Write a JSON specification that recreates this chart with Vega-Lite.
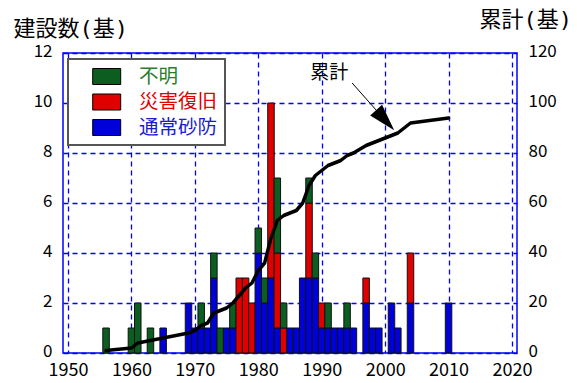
{
  "$schema": "https://vega.github.io/schema/vega-lite/v6.json",
  "width": 454,
  "height": 300,
  "autosize": "none",
  "padding": {"left": 63, "top": 53, "right": 60, "bottom": 30},
  "background": "white",
  "config": {
    "font": "Noto Sans CJK JP",
    "view": {"stroke": "#0000ff", "strokeWidth": 1.5},
    "axis": {
      "labelFont": "Noto Sans CJK JP",
      "labelFontSize": 17,
      "labelColor": "#000",
      "titleFont": "DejaVu Sans Mono, Noto Sans CJK JP",
      "titleFontSize": 22,
      "titleFontWeight": "normal",
      "titleColor": "#000",
      "domain": false,
      "ticks": false,
      "gridColor": "#0000ff",
      "gridDash": [5, 4],
      "gridWidth": 1.3,
      "gridOpacity": 1
    }
  },
  "datasets": {
    "counts": [
      {"year": 1956, "type": "不明", "count": 1},
      {"year": 1960, "type": "不明", "count": 1},
      {"year": 1961, "type": "不明", "count": 2},
      {"year": 1963, "type": "不明", "count": 1},
      {"year": 1965, "type": "通常砂防", "count": 1},
      {"year": 1969, "type": "通常砂防", "count": 2},
      {"year": 1970, "type": "通常砂防", "count": 1},
      {"year": 1971, "type": "通常砂防", "count": 1},
      {"year": 1971, "type": "不明", "count": 1},
      {"year": 1972, "type": "通常砂防", "count": 1},
      {"year": 1973, "type": "通常砂防", "count": 3},
      {"year": 1973, "type": "不明", "count": 1},
      {"year": 1974, "type": "不明", "count": 1},
      {"year": 1975, "type": "通常砂防", "count": 1},
      {"year": 1976, "type": "通常砂防", "count": 1},
      {"year": 1976, "type": "不明", "count": 1},
      {"year": 1977, "type": "災害復旧", "count": 3},
      {"year": 1978, "type": "災害復旧", "count": 3},
      {"year": 1979, "type": "災害復旧", "count": 2},
      {"year": 1980, "type": "通常砂防", "count": 4},
      {"year": 1980, "type": "不明", "count": 1},
      {"year": 1981, "type": "通常砂防", "count": 2},
      {"year": 1981, "type": "不明", "count": 1},
      {"year": 1982, "type": "通常砂防", "count": 3},
      {"year": 1982, "type": "災害復旧", "count": 7},
      {"year": 1983, "type": "通常砂防", "count": 1},
      {"year": 1983, "type": "災害復旧", "count": 3},
      {"year": 1983, "type": "不明", "count": 3},
      {"year": 1984, "type": "災害復旧", "count": 1},
      {"year": 1984, "type": "不明", "count": 1},
      {"year": 1985, "type": "通常砂防", "count": 1},
      {"year": 1986, "type": "通常砂防", "count": 1},
      {"year": 1987, "type": "通常砂防", "count": 3},
      {"year": 1988, "type": "通常砂防", "count": 3},
      {"year": 1988, "type": "災害復旧", "count": 3},
      {"year": 1988, "type": "不明", "count": 1},
      {"year": 1989, "type": "通常砂防", "count": 3},
      {"year": 1989, "type": "不明", "count": 1},
      {"year": 1990, "type": "通常砂防", "count": 1},
      {"year": 1990, "type": "災害復旧", "count": 1},
      {"year": 1991, "type": "通常砂防", "count": 1},
      {"year": 1991, "type": "不明", "count": 1},
      {"year": 1992, "type": "通常砂防", "count": 1},
      {"year": 1993, "type": "通常砂防", "count": 1},
      {"year": 1994, "type": "通常砂防", "count": 1},
      {"year": 1994, "type": "不明", "count": 1},
      {"year": 1995, "type": "通常砂防", "count": 1},
      {"year": 1997, "type": "通常砂防", "count": 2},
      {"year": 1997, "type": "災害復旧", "count": 1},
      {"year": 1998, "type": "通常砂防", "count": 1},
      {"year": 1999, "type": "通常砂防", "count": 1},
      {"year": 2001, "type": "通常砂防", "count": 2},
      {"year": 2002, "type": "通常砂防", "count": 1},
      {"year": 2004, "type": "通常砂防", "count": 2},
      {"year": 2004, "type": "災害復旧", "count": 2},
      {"year": 2010, "type": "通常砂防", "count": 2}
    ],
    "total": [
      {"year": 1956, "total": 1},
      {"year": 1960, "total": 2},
      {"year": 1961, "total": 4},
      {"year": 1963, "total": 5},
      {"year": 1965, "total": 6},
      {"year": 1969, "total": 8},
      {"year": 1970, "total": 9},
      {"year": 1971, "total": 11},
      {"year": 1972, "total": 12},
      {"year": 1973, "total": 16},
      {"year": 1974, "total": 17},
      {"year": 1975, "total": 18},
      {"year": 1976, "total": 20},
      {"year": 1977, "total": 23},
      {"year": 1978, "total": 26},
      {"year": 1979, "total": 28},
      {"year": 1980, "total": 33},
      {"year": 1981, "total": 36},
      {"year": 1982, "total": 46},
      {"year": 1983, "total": 53},
      {"year": 1984, "total": 55},
      {"year": 1985, "total": 56},
      {"year": 1986, "total": 57},
      {"year": 1987, "total": 60},
      {"year": 1988, "total": 67},
      {"year": 1989, "total": 71},
      {"year": 1990, "total": 73},
      {"year": 1991, "total": 75},
      {"year": 1992, "total": 76},
      {"year": 1993, "total": 77},
      {"year": 1994, "total": 79},
      {"year": 1995, "total": 80},
      {"year": 1997, "total": 83},
      {"year": 1998, "total": 84},
      {"year": 1999, "total": 85},
      {"year": 2001, "total": 87},
      {"year": 2002, "total": 88},
      {"year": 2004, "total": 92},
      {"year": 2010, "total": 94}
    ],
    "pointer": [
      {"year": 1994.8, "total": 108},
      {"year": 2000.0, "total": 93.1}
    ],
    "callout": [
      {"year": 1991.2, "total": 112.2, "label": "累計"}
    ],
    "tip": [
      {"year": 2000.0, "total": 93.1}
    ]
  },
  "layer": [
    {
      "data": {"name": "counts"},
      "mark": {"type": "bar", "width": 6.5, "stroke": "#111", "strokeWidth": 1},
      "encoding": {
        "x": {
          "field": "year",
          "type": "quantitative",
          "scale": {"domain": [1950, 2020], "nice": false, "zero": false},
          "axis": {
            "values": [1950, 1960, 1970, 1980, 1990, 2000, 2010, 2020],
            "format": "d",
            "labelFontSize": 18,
            "labelPadding": 8,
            "labelFlush": false,
            "title": null
          }
        },
        "y": {
          "field": "count",
          "type": "quantitative",
          "stack": "zero",
          "scale": {"domain": [0, 12], "nice": false},
          "axis": {
            "orient": "left",
            "values": [0, 2, 4, 6, 8, 10, 12],
            "labelPadding": 11,
            "labelOffset": -2,
            "title": "建設数(基)",
            "titleAngle": 0,
            "titleAlign": "left",
            "titleBaseline": "alphabetic",
            "titleX": -50,
            "titleY": -18
          }
        },
        "color": {
          "field": "type",
          "type": "nominal",
          "scale": {
            "domain": ["不明", "災害復旧", "通常砂防"],
            "range": ["#0b5e20", "#e00000", "#0000d8"]
          },
          "legend": {
            "title": null,
            "orient": "none",
            "legendX": 5,
            "legendY": 6,
            "direction": "vertical",
            "padding": 7,
            "strokeColor": "#555",
            "fillColor": "#ffffff",
            "symbolType": "M0.72,-0.8H3.52V0.8H0.72Z",
            "symbolSize": 400,
            "symbolStrokeColor": "#000",
            "symbolStrokeWidth": 1,
            "symbolOpacity": 1,
            "labelFont": "Noto Sans CJK JP",
            "labelFontSize": 19.5,
            "labelOffset": 43,
            "rowPadding": 4.5,
            "encode": {
              "legend": {"update": {"strokeWidth": {"value": 2}}},
              "labels": {
                "update": {
                  "fill": {"signal": "datum.value === '不明' ? '#2a7d2a' : datum.value === '災害復旧' ? '#e00000' : '#1a1ad0'"}
                }
              }
            }
          }
        },
        "order": {"field": "type", "sort": "descending"}
      }
    },
    {
      "layer": [
        {
          "data": {"name": "total"},
          "mark": {"type": "line", "color": "#000", "strokeWidth": 3.5, "strokeJoin": "round", "strokeCap": "round"},
          "encoding": {
            "x": {"field": "year", "type": "quantitative"},
            "y": {
              "field": "total",
              "type": "quantitative",
              "scale": {"domain": [0, 120], "nice": false},
              "axis": {
                "orient": "right",
                "values": [0, 20, 40, 60, 80, 100, 120],
                "grid": false,
                "labelPadding": 11,
                "labelOffset": -2,
                "title": "累計(基)",
                "titleAngle": 0,
                "titleAlign": "left",
                "titleBaseline": "alphabetic",
                "titleX": -38,
                "titleY": -27
              }
            }
          }
        },
        {
          "data": {"name": "pointer"},
          "mark": {"type": "line", "color": "#000", "strokeWidth": 1},
          "encoding": {
            "x": {"field": "year", "type": "quantitative"},
            "y": {"field": "total", "type": "quantitative"}
          }
        },
        {
          "data": {"name": "callout"},
          "mark": {"type": "text", "font": "Noto Sans CJK JP", "fontSize": 19, "color": "#000", "align": "center", "baseline": "middle"},
          "encoding": {
            "text": {"field": "label"},
            "x": {"field": "year", "type": "quantitative"},
            "y": {"field": "total", "type": "quantitative"}
          }
        },
        {
          "data": {"name": "tip"},
          "mark": {"type": "point", "shape": "M0,-1.35L0.8,1.35L-0.8,1.35Z", "size": 400, "angle": 138, "filled": true, "color": "#000", "opacity": 1},
          "encoding": {
            "x": {"field": "year", "type": "quantitative"},
            "y": {"field": "total", "type": "quantitative"}
          }
        }
      ]
    }
  ],
  "resolve": {"scale": {"y": "independent"}}
}
